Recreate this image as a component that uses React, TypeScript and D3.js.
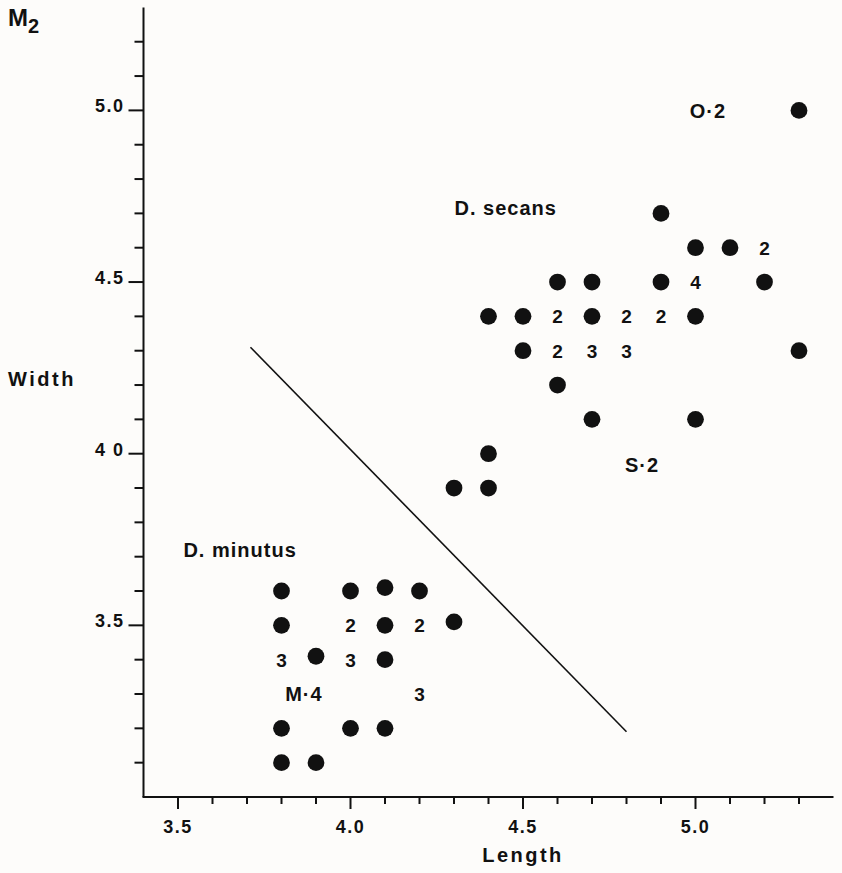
import React from "react";
import * as d3 from "d3";

// D. secans: single specimens (length, width)
const secansDots = [
  [5.3, 5.0], [4.9, 4.7], [5.0, 4.6], [5.1, 4.6], [4.6, 4.5], [4.7, 4.5],
  [4.9, 4.5], [5.2, 4.5], [4.4, 4.4], [4.5, 4.4], [4.7, 4.4], [5.0, 4.4],
  [4.5, 4.3], [5.3, 4.3], [4.6, 4.2], [4.7, 4.1], [5.0, 4.1], [4.4, 4.0],
  [4.3, 3.9], [4.4, 3.9],
];
// D. secans: several specimens at one point (length, width, count)
const secansCounts = [
  [5.2, 4.6, 2], [5.0, 4.5, 4], [4.6, 4.4, 2], [4.8, 4.4, 2], [4.9, 4.4, 2],
  [4.6, 4.3, 2], [4.7, 4.3, 3], [4.8, 4.3, 3],
];
// D. minutus
const minutusDots = [
  [3.8, 3.6], [4.0, 3.6], [4.1, 3.61], [4.2, 3.6], [3.8, 3.5], [4.1, 3.5],
  [4.3, 3.51], [3.9, 3.41], [4.1, 3.4], [3.8, 3.2], [4.0, 3.2], [4.1, 3.2],
  [3.8, 3.1], [3.9, 3.1],
];
const minutusCounts = [
  [4.0, 3.5, 2], [4.2, 3.5, 2], [3.8, 3.4, 3], [4.0, 3.4, 3], [4.2, 3.3, 3],
];
// dividing line between the two species
const divider = [[3.71, 4.31], [4.8, 3.19]];
// text notes placed in data units
const notes = [
  { text: "O·2", x: 5.036, y: 5.0 },
  { text: "S·2", x: 4.845, y: 3.967 },
  { text: "M·4", x: 3.865, y: 3.3 },
  { text: "D. secans", x: 4.45, y: 4.716 },
  { text: "D. minutus", x: 3.68, y: 3.72 },
];
const xTickValues = [3.5, 4.0, 4.5, 5.0];
const xTickLabels = ["3.5", "4.0", "4.5", "5.0"];
const yTickValues = [3.5, 4.0, 4.5, 5.0];
const yTickLabels = ["3.5", "4 0", "4.5", "5.0"];

const W = 842, H = 873;
const ink = "#111";
const font = "'Liberation Sans', Arial, Helvetica, sans-serif";

export default function App() {
  const x = d3.scaleLinear().domain([3.4, 5.4]).range([143.5, 833.5]);
  const y = d3.scaleLinear().domain([3.0, 5.3]).range([797, 7.4]);

  const xMinor = d3.range(35, 54).map((d) => d / 10);
  const yMinor = d3.range(31, 53).map((d) => d / 10);
  const line = d3.line().x((d) => x(d[0])).y((d) => y(d[1]));

  return (
    <svg
      width={W}
      height={H}
      style={{ position: "absolute", left: 0, top: 0, background: "#fdfcfa" }}
      fontFamily={font}
      fontWeight="bold"
      fill={ink}
    >
      {/* axes */}
      <line x1={x(3.4)} x2={x(3.4)} y1={y(5.3)} y2={y(3.0)} stroke={ink} strokeWidth={2} />
      <line x1={x(3.4) - 1} x2={x(5.4)} y1={y(3.0)} y2={y(3.0)} stroke={ink} strokeWidth={2} />
      {yMinor.map((v) => {
        const major = yTickValues.some((t) => Math.abs(t - v) < 1e-6);
        return (
          <line key={"ym" + v} x1={x(3.4)} x2={x(3.4) - (major ? 15 : 9)} y1={y(v)} y2={y(v)} stroke={ink} strokeWidth={2} />
        );
      })}
      {xMinor.map((v) => {
        const major = xTickValues.some((t) => Math.abs(t - v) < 1e-6);
        return (
          <line key={"xm" + v} x1={x(v)} x2={x(v)} y1={y(3.0)} y2={y(3.0) + (major ? 12 : 7)} stroke={ink} strokeWidth={2} />
        );
      })}
      {yTickValues.map((v, i) => (
        <text key={"yl" + v} x={x(3.4) - 19} y={y(v) + 2} textAnchor="end" fontSize={18} letterSpacing={1.5}>
          {yTickLabels[i]}
        </text>
      ))}
      {xTickValues.map((v, i) => (
        <text key={"xl" + v} x={x(v)} y={833} textAnchor="middle" fontSize={18} letterSpacing={1.5}>
          {xTickLabels[i]}
        </text>
      ))}

      {/* axis titles */}
      <text x={8} y={26} fontSize={24}>
        M<tspan dy={7} fontSize={20}>2</tspan>
      </text>
      <text x={8} y={386} fontSize={20} letterSpacing={2.5}>Width</text>
      <text x={523} y={862} textAnchor="middle" fontSize={20} letterSpacing={2.5}>Length</text>

      {/* dividing line */}
      <path d={line(divider as [number, number][]) || ""} fill="none" stroke={ink} strokeWidth={1.6} />

      {/* points */}
      {[...secansDots, ...minutusDots].map((d, i) => (
        <circle key={"p" + i} cx={x(d[0])} cy={y(d[1])} r={8.4} fill={ink} />
      ))}
      {[...secansCounts, ...minutusCounts].map((d, i) => (
        <text key={"c" + i} x={x(d[0])} y={y(d[1])} dy="0.36em" textAnchor="middle" fontSize={19}>
          {d[2]}
        </text>
      ))}
      {notes.map((n) => (
        <text key={n.text} x={x(n.x)} y={y(n.y)} dy="0.36em" textAnchor="middle" fontSize={20} letterSpacing={1}>
          {n.text}
        </text>
      ))}
    </svg>
  );
}
